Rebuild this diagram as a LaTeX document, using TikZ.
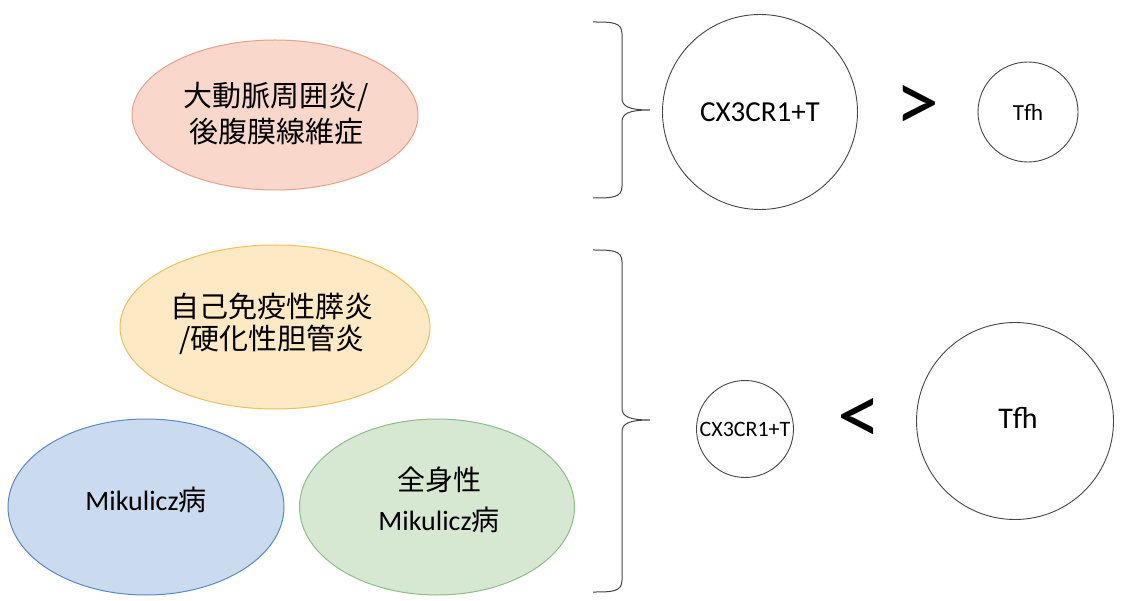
\documentclass[tikz,border=0pt]{standalone}
\usepackage{fontspec}
\setmainfont{Carlito}
\newfontfamily\cjk{Noto Sans CJK JP}
\usetikzlibrary{shapes.geometric}
\definecolor{pinkfill}{RGB}{249,216,203}
\definecolor{pinkline}{RGB}{232,160,140}
\definecolor{yelfill}{RGB}{253,233,196}
\definecolor{yelline}{RGB}{240,190,90}
\definecolor{bluefill}{RGB}{202,219,239}
\definecolor{blueline}{RGB}{90,135,200}
\definecolor{grnfill}{RGB}{214,232,210}
\definecolor{grnline}{RGB}{140,190,135}
\definecolor{lineg}{RGB}{70,70,70}
\tikzset{
  blob/.style={ellipse, line width=1pt, inner sep=0pt},
  lbl/.style={align=center, text=black, inner sep=0pt},
  cell/.style={circle, draw=lineg, line width=0.9pt, inner sep=0pt, fill=white},
  brace/.style={draw=lineg, line width=1pt},
  cmp/.style={font=\fontsize{88}{88}\selectfont, inner sep=0pt}
}
\begin{document}
\begin{tikzpicture}[x=1pt,y=-1pt]
\useasboundingbox (0,0) rectangle (1124,601);
\fill[white] (0,0) rectangle (1124,601);
% ellipses
\node[blob, fill=pinkfill, draw=pinkline, minimum width=286, minimum height=150] (aort) at (275,115) {};
\node[lbl, font=\cjk\fontsize{29}{36}\selectfont] (aortt) at (276,114) {大動脈周囲炎/\\後腹膜線維症};
\node[blob, fill=yelfill, draw=yelline, minimum width=310, minimum height=164] (aip) at (275,327) {};
\node[lbl, font=\cjk\fontsize{29}{32}\selectfont] (aipt) at (272,324) {自己免疫性膵炎\\/硬化性胆管炎};
\node[blob, fill=bluefill, draw=blueline, minimum width=276, minimum height=176] (mik) at (146,507) {};
\node[lbl, font=\fontsize{28}{30}\selectfont] (mikt) at (146,500) {Mikulicz{\cjk 病}};
\node[blob, fill=grnfill, draw=grnline, minimum width=275, minimum height=176] (smik) at (437,507) {};
\node[lbl, font=\fontsize{28}{40}\selectfont] (smikt) at (439,500) {{\cjk 全身性}\\Mikulicz{\cjk 病}};
% braces
\coordinate (b1tip) at (650,110);
\draw[brace] (593,22) .. controls (612,22) and (622,22) .. (622,34) -- (622,98)
  .. controls (622,106) and (628,110) .. (b1tip)
  (b1tip) .. controls (628,110) and (622,114) .. (622,122) -- (622,186)
  .. controls (622,198) and (612,198) .. (593,198);
\coordinate (b2tip) at (650,420);
\draw[brace] (593,250) .. controls (612,250) and (622,250) .. (622,262) -- (622,408)
  .. controls (622,416) and (628,420) .. (b2tip)
  (b2tip) .. controls (628,420) and (622,424) .. (622,432) -- (622,580)
  .. controls (622,592) and (612,592) .. (593,592);
% top row
\node[cell, minimum size=195, font=\fontsize{29}{29}\selectfont] (cx1) at (760,112) {CX3CR1+T};
\node[cmp] (gt) at (917,108) {>};
\node[cell, minimum size=100, font=\fontsize{23}{23}\selectfont] (tfh1) at (1028,112) {Tfh};
% bottom row
\node[cell, minimum size=97, font=\fontsize{22}{22}\selectfont] (cx2) at (745,429) {CX3CR1+T};
\node[cmp] (lt) at (859,421) {<};
\node[cell, minimum size=197] (tfh2) at (1015,421) {};
\node[lbl, font=\fontsize{30}{30}\selectfont] (tfh2t) at (1018,418) {Tfh};
\end{tikzpicture}
\end{document}
